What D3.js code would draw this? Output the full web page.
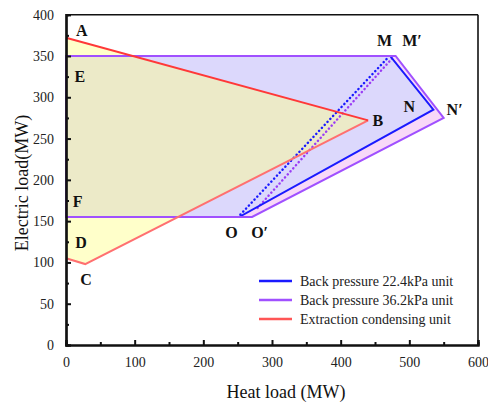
<!DOCTYPE html>
<html>
<head>
<meta charset="utf-8">
<script src="https://cdn.jsdelivr.net/npm/d3@7/dist/d3.min.js"></script>
<style>
  html, body { margin: 0; padding: 0; background: #fff; }
  svg { display: block; font-family: "Liberation Serif", "Times New Roman", serif; }
</style>
</head>
<body>
<svg id="chart" width="488" height="410"></svg>
<script>
// Operating regions (heat load MW, electric load MW)
const ecHeat = [0, 440, 28, 0];            // extraction condensing unit: A, B, C, D-side
const ecElec = [372, 272, 98, 105];
const bp224Heat = [0, 472, 535, 252, 0];   // back pressure 22.4kPa: E, M, N, O, F
const bp224Elec = [350, 350, 285, 155, 155];
const bp362Heat = [0, 480, 550, 271, 0];   // back pressure 36.2kPa: E, M', N', O', F
const bp362Elec = [350, 350, 275, 155, 155];
const dot224Heat = [254, 470];
const dot224Elec = [158, 349];
const dot362Heat = [279, 477];
const dot362Elec = [166, 349];

const pointNames = ["A", "B", "C", "D", "E", "F", "M", "M\u2032", "N", "N\u2032", "O", "O\u2032"];
const labelHeat = [23, 454, 29, 22, 20, 17, 464, 504, 500, 566, 241, 282];
const labelElec = [381, 272, 80, 125, 326, 174, 369, 369, 289, 285, 136, 136];

const legendNames = ["Back pressure 22.4kPa unit", "Back pressure 36.2kPa unit", "Extraction condensing unit"];
const legendColors = ["#1a1aff", "#a050ff", "#ff5555"];

const xTicks = [0, 100, 200, 300, 400, 500, 600];
const yTicks = [0, 50, 100, 150, 200, 250, 300, 350, 400];

const svg = d3.select("#chart");
const m = { left: 66, right: 478, top: 14.7, bottom: 345 };
const x = d3.scaleLinear().domain([0, 600]).range([m.left, m.right]);
const y = d3.scaleLinear().domain([0, 400]).range([m.bottom, m.top]);

const pts = (hx, ey) => hx.map((h, i) => [x(h), y(ey[i])]);
const line = d3.line();
const closed = p => line(p) + "Z";

const plot = svg.append("g");

// Fills
plot.append("path").attr("d", closed(pts(bp362Heat, bp362Elec))).attr("fill", "#f8d8f8");
plot.append("path").attr("d", closed(pts(bp224Heat, bp224Elec))).attr("fill", "#dcd8fc");
plot.append("path").attr("d", closed(pts(ecHeat, ecElec))).attr("fill", "rgb(255,255,139)").attr("fill-opacity", 0.46);

// Dotted lines
plot.append("path").attr("d", line(pts(dot224Heat, dot224Elec)))
  .attr("stroke", "#1a1aff").attr("stroke-width", 2.5).attr("fill", "none")
  .attr("stroke-dasharray", "0.1 4").attr("stroke-linecap", "round");
plot.append("path").attr("d", line(pts(dot362Heat, dot362Elec)))
  .attr("stroke", "#9a3cf5").attr("stroke-width", 2.5).attr("fill", "none")
  .attr("stroke-dasharray", "0.1 4").attr("stroke-linecap", "round");

// Outlines
plot.append("path").attr("d", closed(pts(bp224Heat, bp224Elec)))
  .attr("fill", "none").attr("stroke", "#1a1aff").attr("stroke-width", 2).attr("stroke-linejoin", "miter");
plot.append("path").attr("d", closed(pts(bp362Heat, bp362Elec)))
  .attr("fill", "none").attr("stroke", "#a050ff").attr("stroke-width", 2).attr("stroke-linejoin", "miter");
const ecPts = pts(ecHeat, ecElec);
plot.append("path").attr("d", line([ecPts[1], ecPts[2], ecPts[3]]))
  .attr("fill", "none").attr("stroke", "#ff7070").attr("stroke-width", 2);
plot.append("path").attr("d", line([ecPts[0], ecPts[1]]))
  .attr("fill", "none").attr("stroke", "#ff3838").attr("stroke-width", 2);

// Point labels
plot.selectAll("text.pt").data(pointNames).join("text")
  .attr("class", "pt")
  .attr("x", (d, i) => x(labelHeat[i]))
  .attr("y", (d, i) => y(labelElec[i]))
  .attr("dy", "0.36em")
  .attr("text-anchor", "middle")
  .attr("font-size", 16).attr("font-weight", "bold").attr("fill", "#111")
  .text(d => d);

// Frame
svg.append("line").attr("x1", m.left).attr("x2", m.right).attr("y1", m.top).attr("y2", m.top)
  .attr("stroke", "#111").attr("stroke-width", 1.6);
svg.append("line").attr("x1", m.right).attr("x2", m.right).attr("y1", m.top).attr("y2", m.bottom)
  .attr("stroke", "#111").attr("stroke-width", 1.6);

// Axes with inward ticks
const xAxis = svg.append("g").attr("transform", `translate(0,${m.bottom})`)
  .call(d3.axisBottom(x).tickValues(xTicks).tickSize(-5).tickPadding(12));
const xMinor = svg.append("g").attr("transform", `translate(0,${m.bottom})`)
  .call(d3.axisBottom(x).tickValues(xTicks.slice(0, -1).map(v => v + 50)).tickSize(-3).tickFormat(""));
const yAxis = svg.append("g").attr("transform", `translate(${m.left},0)`)
  .call(d3.axisLeft(y).tickValues(yTicks).tickSize(-5).tickPadding(12));
const yMinor = svg.append("g").attr("transform", `translate(${m.left},0)`)
  .call(d3.axisLeft(y).tickValues(yTicks.slice(0, -1).map(v => v + 25)).tickSize(-3).tickFormat(""));

[xAxis, yAxis, xMinor, yMinor].forEach(g => {
  g.select(".domain").attr("stroke", "#111").attr("stroke-width", 2.2);
  g.selectAll(".tick line").attr("stroke", "#111").attr("stroke-width", 2);
  g.selectAll("text").attr("font-family", "Liberation Serif, serif").attr("font-size", 14).attr("fill", "#222");
});

// Axis titles
svg.append("text").attr("x", 286).attr("y", 398).attr("text-anchor", "middle")
  .attr("font-size", 18).attr("fill", "#111").text("Heat load (MW)");
svg.append("text").attr("transform", "translate(28,183) rotate(-90)").attr("text-anchor", "middle")
  .attr("font-size", 18).attr("fill", "#111").text("Electric load(MW)");

// Legend
const leg = svg.append("g");
legendNames.forEach((name, i) => {
  const ly = 281 + i * 19;
  leg.append("line").attr("x1", 259).attr("x2", 292).attr("y1", ly).attr("y2", ly)
    .attr("stroke", legendColors[i]).attr("stroke-width", 2.5);
  leg.append("text").attr("x", 300).attr("y", ly).attr("dy", "0.35em")
    .attr("font-size", 14).attr("fill", "#222").text(name);
});
</script>
</body>
</html>
